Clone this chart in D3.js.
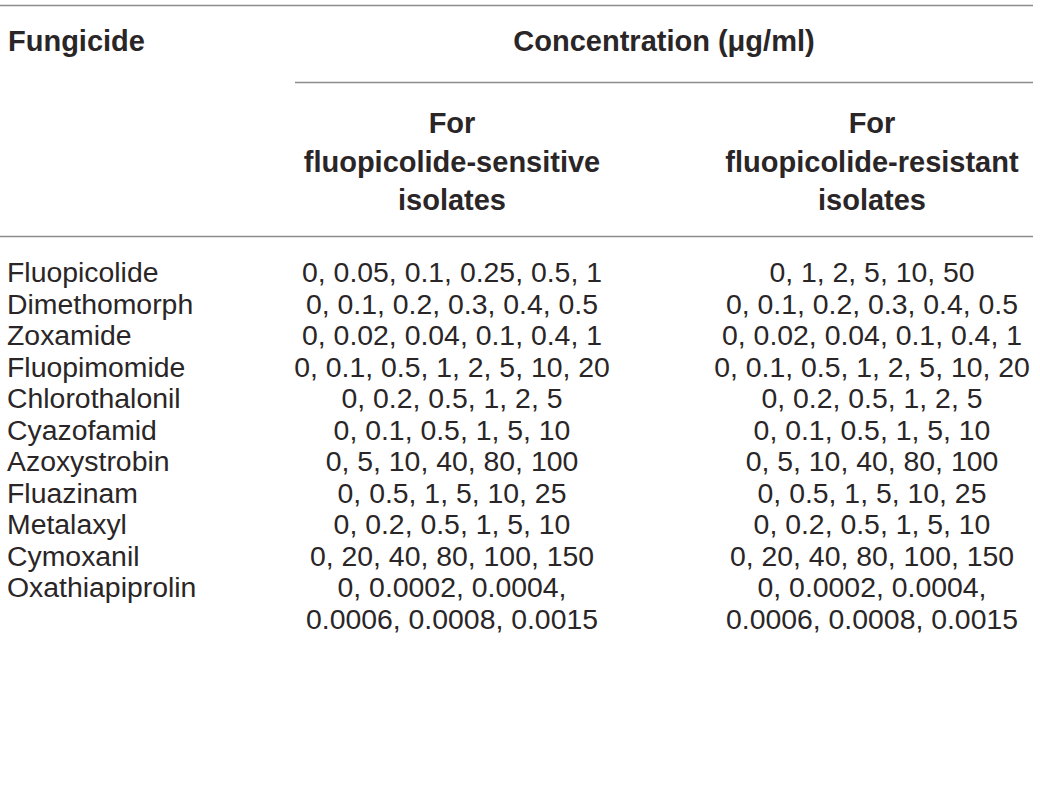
<!DOCTYPE html>
<html>
<head>
<meta charset="utf-8">
<script src="https://cdn.jsdelivr.net/npm/d3@7"></script>
<style>
  html, body { margin: 0; padding: 0; background: #fff; }
  svg { display: block; }
</style>
</head>
<body>
<svg id="chart" width="1040" height="804"></svg>
<script>
// ---- Data ----
const fungicides = ["Fluopicolide", "Dimethomorph", "Zoxamide", "Fluopimomide", "Chlorothalonil",
  "Cyazofamid", "Azoxystrobin", "Fluazinam", "Metalaxyl", "Cymoxanil", "Oxathiapiprolin"];
const sensitiveConc = [
  "0, 0.05, 0.1, 0.25, 0.5, 1",
  "0, 0.1, 0.2, 0.3, 0.4, 0.5",
  "0, 0.02, 0.04, 0.1, 0.4, 1",
  "0, 0.1, 0.5, 1, 2, 5, 10, 20",
  "0, 0.2, 0.5, 1, 2, 5",
  "0, 0.1, 0.5, 1, 5, 10",
  "0, 5, 10, 40, 80, 100",
  "0, 0.5, 1, 5, 10, 25",
  "0, 0.2, 0.5, 1, 5, 10",
  "0, 20, 40, 80, 100, 150",
  "0, 0.0002, 0.0004,\n0.0006, 0.0008, 0.0015"
];
const resistantConc = [
  "0, 1, 2, 5, 10, 50",
  "0, 0.1, 0.2, 0.3, 0.4, 0.5",
  "0, 0.02, 0.04, 0.1, 0.4, 1",
  "0, 0.1, 0.5, 1, 2, 5, 10, 20",
  "0, 0.2, 0.5, 1, 2, 5",
  "0, 0.1, 0.5, 1, 5, 10",
  "0, 5, 10, 40, 80, 100",
  "0, 0.5, 1, 5, 10, 25",
  "0, 0.2, 0.5, 1, 5, 10",
  "0, 20, 40, 80, 100, 150",
  "0, 0.0002, 0.0004,\n0.0006, 0.0008, 0.0015"
];
const headerFirst = "Fungicide";
const headerSpan = "Concentration (\u03bcg/ml)";
const colHeaders = ["For\nfluopicolide-sensitive\nisolates", "For\nfluopicolide-resistant\nisolates"];

// ---- Layout ----
const svg = d3.select("#chart");
const font = "'Liberation Sans', Arial, Helvetica, sans-serif";
const textColor = "#2a2627";
const ruleColor = "#8c8c8c";
const fs = 28.4;
const fsHead = 29;
const lineH = 31.5;

const colX = d3.scaleOrdinal().domain(["name", "sens", "res"]).range([7, 452, 872]);
const rowY = d3.scaleLinear().domain([0, fungicides.length - 1]).range([282, 282 + 10 * lineH]);

// rules
const rules = [
  { x1: 0, x2: 1033, y: 5.5 },
  { x1: 295, x2: 1033, y: 82.5 },
  { x1: 0, x2: 1033, y: 236.5 }
];
svg.selectAll("line.rule").data(rules).join("line")
  .attr("class", "rule")
  .attr("x1", d => d.x1).attr("x2", d => d.x2)
  .attr("y1", d => d.y).attr("y2", d => d.y)
  .attr("stroke", ruleColor).attr("stroke-width", 1.5);

// header
svg.append("text").attr("x", 8).attr("y", 51)
  .attr("font-family", font).attr("font-size", fsHead).attr("font-weight", "bold")
  .attr("fill", textColor).text(headerFirst);
svg.append("text").attr("x", 664).attr("y", 51).attr("text-anchor", "middle")
  .attr("font-family", font).attr("font-size", fsHead).attr("font-weight", "bold")
  .attr("fill", textColor).text(headerSpan);

colHeaders.forEach((h, i) => {
  const t = svg.append("text").attr("text-anchor", "middle")
    .attr("font-family", font).attr("font-size", fsHead).attr("font-weight", "bold")
    .attr("fill", textColor);
  h.split("\n").forEach((ln, j) => {
    t.append("tspan").attr("x", colX(i === 0 ? "sens" : "res")).attr("y", 133 + j * 38.5).text(ln);
  });
});

// body
const rows = fungicides.map((f, i) => ({ name: f, sens: sensitiveConc[i], res: resistantConc[i], i }));
const g = svg.append("g").attr("font-family", font).attr("font-size", fs).attr("fill", textColor);

g.selectAll("text.name").data(rows).join("text")
  .attr("class", "name")
  .attr("x", colX("name")).attr("y", d => rowY(d.i))
  .text(d => d.name);

["sens", "res"].forEach(key => {
  g.selectAll("text." + key).data(rows).join("text")
    .attr("class", key).attr("text-anchor", "middle")
    .each(function(d) {
      const el = d3.select(this);
      d[key].split("\n").forEach((ln, j) => {
        el.append("tspan").attr("x", colX(key)).attr("y", rowY(d.i) + j * lineH).text(ln);
      });
    });
});
</script>
</body>
</html>
